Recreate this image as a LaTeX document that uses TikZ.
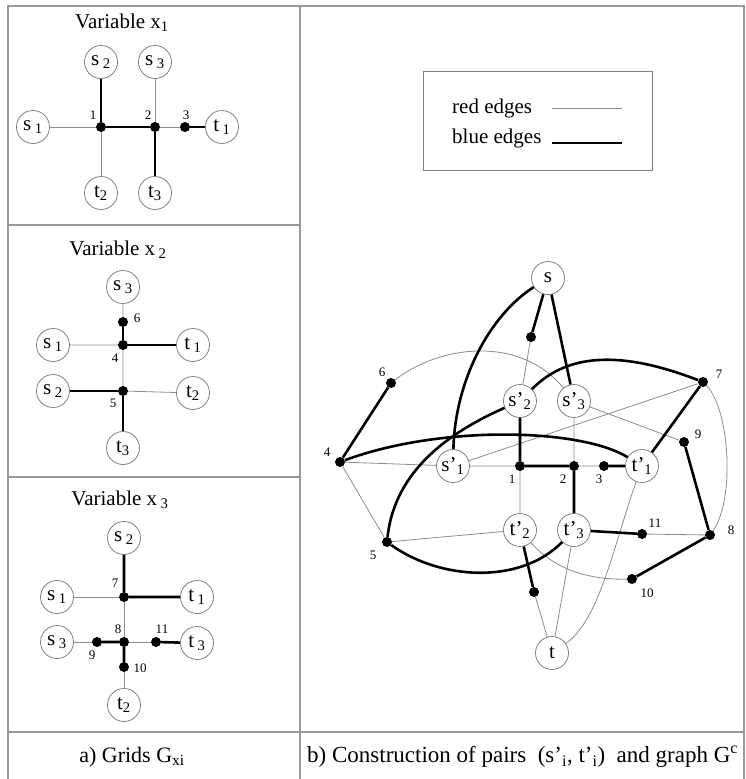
\documentclass[tikz,border=0pt]{standalone}
\usepackage{fontspec}
\setmainfont{Liberation Serif}
\usepackage{tikz}
\usetikzlibrary{arrows}

\newcommand{\strich}[2]{#1’\textsubscript{#2}}

\begin{document}
\begin{tikzpicture}[x=1pt, y=-1pt,
			knoten/.style={circle, draw=black!50, fill=white, line width=0.8pt, minimum size=33pt, inner sep=0pt, font=\fontsize{21}{21}\selectfont},
			punkt/.style={circle, fill=black, minimum size=10pt, inner sep=0pt},
			nr/.style={inner sep=0pt, font=\fontsize{13}{13}\selectfont},
			rot/.style={draw=black!45, line width=0.8pt},
			blau/.style={draw=black, line width=2.6pt},
			rahmen/.style={draw=black!40, line width=1.2pt},
			>=latex,   %Voreinstellung für Pfeilspitzen
			font=\fontsize{21}{21}\selectfont]
			\useasboundingbox (0,0) rectangle (745,779);
			% Rahmen zeichnen
			\draw[rahmen] (8,779) -- (8,6) -- (744,6) -- (744,779);
			\draw[rahmen] (300,6) -- (300,779);
			\draw[rahmen] (8,225) -- (300,225) (8,477) -- (300,477) (8,732) -- (744,732);
			% Beschriftung unten
			\node[font=\fontsize{22}{22}\selectfont] (capa) at (132,757) {a) Grids G\textsubscript{xi}};
			\node[anchor=west, inner sep=0pt, font=\fontsize{23}{23}\selectfont] (capb) at (307,757) {b) Construction of pairs\ \ (\strich{s}{i}, \strich{t}{i})\ \ and graph G\textsuperscript{c}};
			
			%Variable x1
			\node (tita) at (122,23) {Variable x\textsubscript{1}};
			\node[knoten] (as1) at (33,127) {s\,\textsubscript{1}};
			\node[knoten] (as2) at (101,62) {s\,\textsubscript{2}};
			\node[knoten] (as3) at (155,62) {s\,\textsubscript{3}};
			\node[knoten] (at1) at (222,127) {t\,\textsubscript{1}};
			\node[knoten] (at2) at (101,193) {t\textsubscript{2}};
			\node[knoten] (at3) at (155,193) {t\textsubscript{3}};
			\foreach \n/\x/\y in {1/101/127, 2/155/127, 3/185/127} \node[punkt] (a\n) at (\x,\y) {};
			\foreach \n/\x/\y in {1/93/115, 2/148/115, 3/186/115} \node[nr] (la\n) at (\x,\y) {\n};
			\draw[rot] (as1) -- (a1) (a1) -- (at2) (as3) -- (a2) (a2) -- (a3);
			\draw[blau] (as2) -- (a1) -- (a2) -- (at3) (a3) -- (at1);
			
			%Variable x2
			\node (titb) at (118,250) {Variable x\,\textsubscript{2}};
			\node[knoten] (bs3) at (123,287) {s\,\textsubscript{3}};
			\node[knoten] (bs1) at (53,345) {s\,\textsubscript{1}};
			\node[knoten] (bt1) at (193,345) {t\,\textsubscript{1}};
			\node[knoten] (bs2) at (53,391) {s\,\textsubscript{2}};
			\node[knoten] (bt2) at (193,393) {t\textsubscript{2}};
			\node[knoten] (bt3) at (123,448) {t\textsubscript{3}};
			\foreach \n/\x/\y in {6/123/322, 4/123/345, 5/123/391} \node[punkt] (b\n) at (\x,\y) {};
			\foreach \n/\x/\y in {6/137/318, 4/115/358, 5/113/403} \node[nr] (lb\n) at (\x,\y) {\n};
			\draw[rot] (bs3) -- (b6) (bs1) -- (b4) -- (b5) -- (bt2);
			\draw[blau] (b6) -- (b4) -- (bt1) (bs2) -- (b5) -- (bt3);
			
			%Variable x3
			\node (titc) at (120,500) {Variable x\,\textsubscript{3}};
			\node[knoten] (cs2) at (124,538) {s\,\textsubscript{2}};
			\node[knoten] (cs1) at (57,597) {s\,\textsubscript{1}};
			\node[knoten] (ct1) at (197,597) {t\,\textsubscript{1}};
			\node[knoten] (cs3) at (57,642) {s\,\textsubscript{3}};
			\node[knoten] (ct3) at (197,643) {t\,\textsubscript{3}};
			\node[knoten] (ct2) at (124,705) {t\textsubscript{2}};
			\foreach \n/\x/\y in {7/124/597, 9/97/642, 8/124/642, 11/156/642, 10/124/667} \node[punkt] (c\n) at (\x,\y) {};
			\foreach \n/\x/\y in {7/115/583, 9/92/655, 8/118/629, 11/162/629, 10/140/668} \node[nr] (lc\n) at (\x,\y) {\n};
			\draw[rot] (cs1) -- (c7) -- (c8) (cs3) -- (c9) (c8) -- (c11) (c10) -- (ct2);
			\draw[blau] (cs2) -- (c7) -- (ct1) (c9) -- (c8) -- (c10) (c11) -- (ct3);
			
			%Legende
			\draw[draw=black!50, line width=0.8pt] (423,71) rectangle (652,170);
			\node[anchor=base west, inner sep=0pt] (lgr) at (452,113) {red edges};
			\node[anchor=base west, inner sep=0pt] (lgb) at (452,143) {blue edges};
			\draw[rot, line width=1pt] (552,108) -- (622,108);
			\draw[blau] (552,143) -- (622,143);
			
			%Graph Gc
			\node[knoten] (s) at (548,278) {s};
			\node[knoten] (sp2) at (520,401) {\strich{s}{2}};
			\node[knoten] (sp3) at (574,401) {\strich{s}{3}};
			\node[knoten] (sp1) at (453,466) {\strich{s}{1}};
			\node[knoten] (tp1) at (642,466) {\strich{t}{1}};
			\node[knoten] (tp2) at (520,530) {\strich{t}{2}};
			\node[knoten] (tp3) at (574,530) {\strich{t}{3}};
			\node[knoten] (t) at (552,653) {t};
			\foreach \n/\x/\y in {1/520/466, 2/574/466, 3/604/466, 4/340/462, 5/387/542, 6/391/383, 7/703/382, 8/710/535, 9/684/442, 10/632/579, 11/642/534, s/531/337, t/534/592}
				\node[punkt] (r\n) at (\x,\y) {};
			\foreach \n/\x/\y in {1/512/479, 2/563/479, 3/599/479, 4/327/452, 5/373/555, 6/382/372, 7/719/374, 8/731/530, 9/698/434, 10/647/593, 11/655/523}
				\node[nr] (lr\n) at (\x,\y) {\n};
			% rote Kanten
			\draw[rot] (rs) -- (sp2) (sp1) -- (r1) (r2) -- (r3) (r4) -- (sp1) (r4) -- (r5) -- (tp2);
			\draw[rot] (sp1) -- (r7) (sp3) -- (r2) (r1) -- (tp2) (sp3) -- (r9) (r11) -- (r8) (tp3) -- (t) (rt) -- (t);
			\draw[rot] (r6) .. controls (440,345) and (520,335) .. (sp3);
			\draw[rot] (r7) .. controls (730,410) and (735,500) .. (r8);
			\draw[rot] (tp2) .. controls (555,570) and (590,580) .. (r10);
			\draw[rot] (tp1) .. controls (615,540) and (600,620) .. (t);
			% blaue Kanten
			\draw[blau] (s) -- (rs) (s) -- (sp3) (r6) -- (r4) (sp2) -- (r1) -- (r2) -- (tp3) (r3) -- (tp1) -- (r7);
			\draw[blau] (r9) -- (r8) -- (r10) (tp3) -- (r11) (tp2) -- (rt);
			\draw[blau] (s) .. controls (490,315) and (455,380) .. (sp1);
			\draw[blau] (sp2) .. controls (565,356) and (615,348) .. (r7);
			\draw[blau] (sp2) .. controls (450,432) and (395,470) .. (r5);
			\draw[blau] (r4) .. controls (440,425) and (580,428) .. (tp1);
			\draw[blau] (r5) .. controls (440,580) and (520,585) .. (tp3);
		\end{tikzpicture}
\end{document}
